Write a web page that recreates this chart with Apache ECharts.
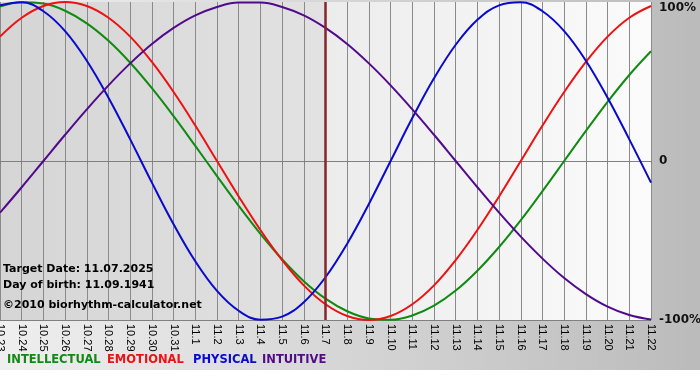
<!DOCTYPE html>
<html>
<head>
<meta charset="utf-8">
<script src="https://cdn.jsdelivr.net/npm/echarts@6/dist/echarts.min.js"></script>
<style>
    html, body { margin: 0; padding: 0; background: #fff; }
    #chart {
        width: 700px; height: 380px;
        background: linear-gradient(to right, #efefef, #bbbbbb) no-repeat 0 0 / 700px 370px;
    }
</style>
</head>
<body>
<div id="chart"></div>
<script>
var days = ['10.23', '10.24', '10.25', '10.26', '10.27', '10.28', '10.29', '10.30', '10.31',
    '11.1', '11.2', '11.3', '11.4', '11.5', '11.6', '11.7', '11.8', '11.9', '11.10', '11.11',
    '11.12', '11.13', '11.14', '11.15', '11.16', '11.17', '11.18', '11.19', '11.20', '11.21', '11.22'];

var intellectual = [97.2, 99.9, 99.0, 94.5, 86.6, 75.6, 61.8, 45.8, 28.2, 9.5, -9.5, -28.2, -45.8,
    -61.8, -75.6, -86.6, -94.5, -99.0, -99.9, -97.2, -91.0, -81.5, -69.0, -54.1, -37.2, -18.9,
    0, 18.9, 37.2, 54.1, 69.0];
var emotional = [78.2, 90.1, 97.5, 100, 97.5, 90.1, 78.2, 62.3, 43.4, 22.3, 0, -22.3, -43.4,
    -62.3, -78.2, -90.1, -97.5, -100, -97.5, -90.1, -78.2, -62.3, -43.4, -22.3, 0, 22.3,
    43.4, 62.3, 78.2, 90.1, 97.5];
var physical = [97.9, 99.8, 94.2, 81.7, 63.1, 39.8, 13.6, -13.6, -39.8, -63.1, -81.7, -94.2,
    -99.8, -97.9, -88.8, -73.1, -52.0, -27.0, 0, 27.0, 52.0, 73.1, 88.8, 97.9, 99.8, 94.2,
    81.7, 63.1, 39.8, 13.6, -13.6];
var intuitive = [-32.5, -16.5, 0, 16.5, 32.5, 47.6, 61.4, 73.6, 83.7, 91.6, 96.9, 99.7, 99.7,
    96.9, 91.6, 83.7, 73.6, 61.4, 47.6, 32.5, 16.5, 0, -16.5, -32.5, -47.6, -61.4, -73.6,
    -83.7, -91.6, -96.9, -99.7];

var targetDay = '11.7';
var infoLines = ['Target Date: 11.07.2025', 'Day of birth: 11.09.1941', '\u00a92010 biorhythm-calculator.net'];
var legendNames = ['INTELLECTUAL', 'EMOTIONAL', 'PHYSICAL', 'INTUITIVE'];
var colors = ['#108a10', '#ee1111', '#0a0acc', '#520a8c'];

var myChart = echarts.init(document.getElementById('chart'));

function curve(name, data, color) {
    return {
        name: name,
        type: 'line',
        data: data,
        smooth: 0.4,
        symbol: 'none',
        z: 4,
        lineStyle: { color: color, width: 2 }
    };
}

var series = [
    curve('INTELLECTUAL', intellectual, colors[0]),
    curve('EMOTIONAL', emotional, colors[1]),
    curve('PHYSICAL', physical, colors[2]),
    curve('INTUITIVE', intuitive, colors[3])
];
// zwei Hintergrundflaechen + Linie fuer das Zieldatum
series[0].markArea = {
    silent: true,
    data: [
        [{ xAxis: days[0], itemStyle: { color: new echarts.graphic.LinearGradient(0, 0, 1, 0, [
            { offset: 0, color: '#d5d5d5' }, { offset: 1, color: '#e2e2e2' }]) } },
         { xAxis: targetDay }],
        [{ xAxis: targetDay, itemStyle: { color: new echarts.graphic.LinearGradient(0, 0, 1, 0, [
            { offset: 0, color: '#ececec' }, { offset: 1, color: '#fbfbfb' }]) } },
         { xAxis: days[days.length - 1] }]
    ]
};
series[0].markLine = {
    silent: true,
    symbol: 'none',
    label: { show: false },
    lineStyle: { color: '#86262a', width: 2.5, type: 'solid' },
    data: [{ xAxis: targetDay }]
};

var graphics = [];
var infoY = [271, 287, 307];
for (var i = 0; i < infoLines.length; i++) {
    graphics.push({
        type: 'text', left: 3, top: infoY[i] - 7, z: 100,
        style: { text: infoLines[i], fill: '#000', font: 'bold 11px "DejaVu Sans"' }
    });
}
var legendX = [7, 107, 193, 262];
for (var j = 0; j < legendNames.length; j++) {
    graphics.push({
        type: 'text', left: legendX[j], top: 354, z: 100,
        style: { text: legendNames[j], fill: colors[j], font: 'bold 11.5px "DejaVu Sans"' }
    });
}

var option = {
    animation: false,
    grid: { left: 0, right: 49, top: 2, bottom: 60, outerBoundsMode: 'none', containLabel: false },
    xAxis: {
        type: 'category',
        data: days,
        boundaryGap: false,
        z: 3,
        axisLine: { show: true, lineStyle: { color: '#808080', width: 1 } },
        axisTick: { show: true, length: 3, interval: 0, lineStyle: { color: '#808080' } },
        axisLabel: {
            interval: 0,
            rotate: -90,
            margin: 4,
            color: '#000',
            fontFamily: 'Liberation Sans',
            fontSize: 11
        },
        splitLine: { show: true, interval: 0, lineStyle: { color: '#8a8a8a', width: 1 } }
    },
    yAxis: {
        type: 'value',
        position: 'right',
        min: -100,
        max: 100,
        interval: 100,
        z: 3,
        axisLine: { show: false },
        axisTick: { show: false },
        axisLabel: {
            margin: 8,
            color: '#111',
            fontFamily: 'DejaVu Sans',
            fontWeight: 'bold',
            fontSize: 12,
            verticalAlignMaxLabel: 'top',
            formatter: function (v) { return v === 0 ? '0' : v + '%'; }
        },
        splitLine: { show: true, lineStyle: { color: ['#808080', '#808080', 'rgba(0,0,0,0)'], width: 1 } }
    },
    graphic: graphics,
    series: series
};
myChart.setOption(option);
</script>
</body>
</html>
